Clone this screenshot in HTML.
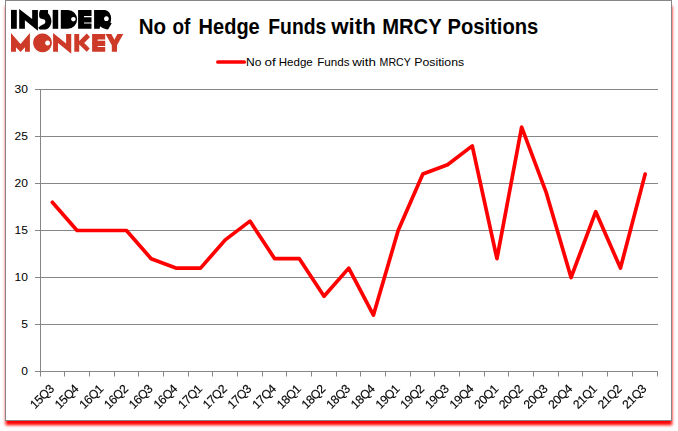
<!DOCTYPE html>
<html><head><meta charset="utf-8"><title>No of Hedge Funds with MRCY Positions</title>
<style>
html,body{margin:0;padding:0;background:#fff;width:678px;height:431px;overflow:hidden}
svg{position:absolute;left:0;top:0}
text{font-family:"Liberation Sans",sans-serif;fill:#000}
</style></head><body>
<svg width="678" height="431" viewBox="0 0 678 431">
<defs><filter id="sh" x="-5%" y="-5%" width="110%" height="110%"><feGaussianBlur stdDeviation="1.4"/></filter></defs>
<rect x="5.58" y="6" width="666.6" height="419.2" fill="#ff0000" filter="url(#sh)"/>
<rect x="5.5" y="0.5" width="666" height="420" fill="#fff" stroke="#868686" stroke-width="1"/>
<line x1="35.00" y1="371.50" x2="658.00" y2="371.50" stroke="#868686" stroke-width="1"/>
<line x1="35.00" y1="324.50" x2="658.00" y2="324.50" stroke="#868686" stroke-width="1"/>
<line x1="35.00" y1="277.50" x2="658.00" y2="277.50" stroke="#868686" stroke-width="1"/>
<line x1="35.00" y1="230.50" x2="658.00" y2="230.50" stroke="#868686" stroke-width="1"/>
<line x1="35.00" y1="183.50" x2="658.00" y2="183.50" stroke="#868686" stroke-width="1"/>
<line x1="35.00" y1="136.50" x2="658.00" y2="136.50" stroke="#868686" stroke-width="1"/>
<line x1="35.00" y1="89.50" x2="658.00" y2="89.50" stroke="#868686" stroke-width="1"/>
<line x1="40.50" y1="89.00" x2="40.50" y2="372.00" stroke="#868686" stroke-width="1"/>
<line x1="40.50" y1="371.50" x2="40.50" y2="376.50" stroke="#868686" stroke-width="1"/>
<line x1="64.50" y1="371.50" x2="64.50" y2="376.50" stroke="#868686" stroke-width="1"/>
<line x1="89.50" y1="371.50" x2="89.50" y2="376.50" stroke="#868686" stroke-width="1"/>
<line x1="114.50" y1="371.50" x2="114.50" y2="376.50" stroke="#868686" stroke-width="1"/>
<line x1="138.50" y1="371.50" x2="138.50" y2="376.50" stroke="#868686" stroke-width="1"/>
<line x1="163.50" y1="371.50" x2="163.50" y2="376.50" stroke="#868686" stroke-width="1"/>
<line x1="188.50" y1="371.50" x2="188.50" y2="376.50" stroke="#868686" stroke-width="1"/>
<line x1="212.50" y1="371.50" x2="212.50" y2="376.50" stroke="#868686" stroke-width="1"/>
<line x1="237.50" y1="371.50" x2="237.50" y2="376.50" stroke="#868686" stroke-width="1"/>
<line x1="262.50" y1="371.50" x2="262.50" y2="376.50" stroke="#868686" stroke-width="1"/>
<line x1="286.50" y1="371.50" x2="286.50" y2="376.50" stroke="#868686" stroke-width="1"/>
<line x1="311.50" y1="371.50" x2="311.50" y2="376.50" stroke="#868686" stroke-width="1"/>
<line x1="336.50" y1="371.50" x2="336.50" y2="376.50" stroke="#868686" stroke-width="1"/>
<line x1="360.50" y1="371.50" x2="360.50" y2="376.50" stroke="#868686" stroke-width="1"/>
<line x1="385.50" y1="371.50" x2="385.50" y2="376.50" stroke="#868686" stroke-width="1"/>
<line x1="410.50" y1="371.50" x2="410.50" y2="376.50" stroke="#868686" stroke-width="1"/>
<line x1="434.50" y1="371.50" x2="434.50" y2="376.50" stroke="#868686" stroke-width="1"/>
<line x1="459.50" y1="371.50" x2="459.50" y2="376.50" stroke="#868686" stroke-width="1"/>
<line x1="484.50" y1="371.50" x2="484.50" y2="376.50" stroke="#868686" stroke-width="1"/>
<line x1="508.50" y1="371.50" x2="508.50" y2="376.50" stroke="#868686" stroke-width="1"/>
<line x1="533.50" y1="371.50" x2="533.50" y2="376.50" stroke="#868686" stroke-width="1"/>
<line x1="558.50" y1="371.50" x2="558.50" y2="376.50" stroke="#868686" stroke-width="1"/>
<line x1="582.50" y1="371.50" x2="582.50" y2="376.50" stroke="#868686" stroke-width="1"/>
<line x1="607.50" y1="371.50" x2="607.50" y2="376.50" stroke="#868686" stroke-width="1"/>
<line x1="632.50" y1="371.50" x2="632.50" y2="376.50" stroke="#868686" stroke-width="1"/>
<line x1="657.50" y1="371.50" x2="657.50" y2="376.50" stroke="#868686" stroke-width="1"/>
<text x="28" y="375.10" text-anchor="end" font-size="11.6" textLength="6.7" lengthAdjust="spacingAndGlyphs">0</text>
<text x="28" y="328.10" text-anchor="end" font-size="11.6" textLength="6.7" lengthAdjust="spacingAndGlyphs">5</text>
<text x="28" y="281.10" text-anchor="end" font-size="11.6" textLength="13.4" lengthAdjust="spacingAndGlyphs">10</text>
<text x="28" y="234.10" text-anchor="end" font-size="11.6" textLength="13.4" lengthAdjust="spacingAndGlyphs">15</text>
<text x="28" y="187.10" text-anchor="end" font-size="11.6" textLength="13.4" lengthAdjust="spacingAndGlyphs">20</text>
<text x="28" y="140.10" text-anchor="end" font-size="11.6" textLength="13.4" lengthAdjust="spacingAndGlyphs">25</text>
<text x="28" y="93.10" text-anchor="end" font-size="11.6" textLength="13.4" lengthAdjust="spacingAndGlyphs">30</text>
<g opacity="0.99">
<text transform="translate(54.94,389.50) rotate(-45)" text-anchor="end" font-size="12.2" textLength="28.2" lengthAdjust="spacing" stroke="#000" stroke-width="0.15">15Q3</text>
<text transform="translate(79.62,389.50) rotate(-45)" text-anchor="end" font-size="12.2" textLength="28.2" lengthAdjust="spacing" stroke="#000" stroke-width="0.15">15Q4</text>
<text transform="translate(104.30,389.50) rotate(-45)" text-anchor="end" font-size="12.2" textLength="28.2" lengthAdjust="spacing" stroke="#000" stroke-width="0.15">16Q1</text>
<text transform="translate(128.98,389.50) rotate(-45)" text-anchor="end" font-size="12.2" textLength="28.2" lengthAdjust="spacing" stroke="#000" stroke-width="0.15">16Q2</text>
<text transform="translate(153.66,389.50) rotate(-45)" text-anchor="end" font-size="12.2" textLength="28.2" lengthAdjust="spacing" stroke="#000" stroke-width="0.15">16Q3</text>
<text transform="translate(178.34,389.50) rotate(-45)" text-anchor="end" font-size="12.2" textLength="28.2" lengthAdjust="spacing" stroke="#000" stroke-width="0.15">16Q4</text>
<text transform="translate(203.02,389.50) rotate(-45)" text-anchor="end" font-size="12.2" textLength="28.2" lengthAdjust="spacing" stroke="#000" stroke-width="0.15">17Q1</text>
<text transform="translate(227.70,389.50) rotate(-45)" text-anchor="end" font-size="12.2" textLength="28.2" lengthAdjust="spacing" stroke="#000" stroke-width="0.15">17Q2</text>
<text transform="translate(252.38,389.50) rotate(-45)" text-anchor="end" font-size="12.2" textLength="28.2" lengthAdjust="spacing" stroke="#000" stroke-width="0.15">17Q3</text>
<text transform="translate(277.06,389.50) rotate(-45)" text-anchor="end" font-size="12.2" textLength="28.2" lengthAdjust="spacing" stroke="#000" stroke-width="0.15">17Q4</text>
<text transform="translate(301.74,389.50) rotate(-45)" text-anchor="end" font-size="12.2" textLength="28.2" lengthAdjust="spacing" stroke="#000" stroke-width="0.15">18Q1</text>
<text transform="translate(326.42,389.50) rotate(-45)" text-anchor="end" font-size="12.2" textLength="28.2" lengthAdjust="spacing" stroke="#000" stroke-width="0.15">18Q2</text>
<text transform="translate(351.10,389.50) rotate(-45)" text-anchor="end" font-size="12.2" textLength="28.2" lengthAdjust="spacing" stroke="#000" stroke-width="0.15">18Q3</text>
<text transform="translate(375.78,389.50) rotate(-45)" text-anchor="end" font-size="12.2" textLength="28.2" lengthAdjust="spacing" stroke="#000" stroke-width="0.15">18Q4</text>
<text transform="translate(400.46,389.50) rotate(-45)" text-anchor="end" font-size="12.2" textLength="28.2" lengthAdjust="spacing" stroke="#000" stroke-width="0.15">19Q1</text>
<text transform="translate(425.14,389.50) rotate(-45)" text-anchor="end" font-size="12.2" textLength="28.2" lengthAdjust="spacing" stroke="#000" stroke-width="0.15">19Q2</text>
<text transform="translate(449.82,389.50) rotate(-45)" text-anchor="end" font-size="12.2" textLength="28.2" lengthAdjust="spacing" stroke="#000" stroke-width="0.15">19Q3</text>
<text transform="translate(474.50,389.50) rotate(-45)" text-anchor="end" font-size="12.2" textLength="28.2" lengthAdjust="spacing" stroke="#000" stroke-width="0.15">19Q4</text>
<text transform="translate(499.18,389.50) rotate(-45)" text-anchor="end" font-size="12.2" textLength="28.2" lengthAdjust="spacing" stroke="#000" stroke-width="0.15">20Q1</text>
<text transform="translate(523.86,389.50) rotate(-45)" text-anchor="end" font-size="12.2" textLength="28.2" lengthAdjust="spacing" stroke="#000" stroke-width="0.15">20Q2</text>
<text transform="translate(548.54,389.50) rotate(-45)" text-anchor="end" font-size="12.2" textLength="28.2" lengthAdjust="spacing" stroke="#000" stroke-width="0.15">20Q3</text>
<text transform="translate(573.22,389.50) rotate(-45)" text-anchor="end" font-size="12.2" textLength="28.2" lengthAdjust="spacing" stroke="#000" stroke-width="0.15">20Q4</text>
<text transform="translate(597.90,389.50) rotate(-45)" text-anchor="end" font-size="12.2" textLength="28.2" lengthAdjust="spacing" stroke="#000" stroke-width="0.15">21Q1</text>
<text transform="translate(622.58,389.50) rotate(-45)" text-anchor="end" font-size="12.2" textLength="28.2" lengthAdjust="spacing" stroke="#000" stroke-width="0.15">21Q2</text>
<text transform="translate(647.26,389.50) rotate(-45)" text-anchor="end" font-size="12.2" textLength="28.2" lengthAdjust="spacing" stroke="#000" stroke-width="0.15">21Q3</text>
</g>
<polyline points="52.35,202.30 77.05,230.50 101.75,230.50 126.45,230.50 151.15,258.70 175.85,268.10 200.55,268.10 225.25,239.90 249.95,221.10 274.65,258.70 299.35,258.70 324.05,296.30 348.75,268.10 373.45,315.10 398.15,230.50 422.85,174.10 447.55,164.70 472.25,145.90 496.95,258.70 521.65,127.10 546.35,192.90 571.05,277.50 595.75,211.70 620.45,268.10 645.15,174.10" fill="none" stroke="#ff0000" stroke-width="3.7" stroke-linecap="round" stroke-linejoin="round"/>
<line x1="217.9" y1="62" x2="244.2" y2="62" stroke="#ff0000" stroke-width="3.7" stroke-linecap="round"/>
<text x="246.0" y="66.0" font-size="11.8" textLength="15.39" lengthAdjust="spacingAndGlyphs">No</text>
<text x="264.51" y="66.0" font-size="11.8" textLength="11.25" lengthAdjust="spacingAndGlyphs">of</text>
<text x="278.74" y="66.0" font-size="11.8" textLength="33.97" lengthAdjust="spacingAndGlyphs">Hedge</text>
<text x="317.18" y="66.0" font-size="11.8" textLength="32.34" lengthAdjust="spacingAndGlyphs">Funds</text>
<text x="352.18" y="66.0" font-size="11.8" textLength="23.74" lengthAdjust="spacingAndGlyphs">with</text>
<text x="379.61" y="66.0" font-size="11.8" textLength="31.16" lengthAdjust="spacingAndGlyphs">MRCY</text>
<text x="414.28" y="66.0" font-size="11.8" textLength="49.84" lengthAdjust="spacingAndGlyphs">Positions</text>
<text x="138.66" y="33.9" font-size="21.7" font-weight="bold" textLength="27.37" lengthAdjust="spacingAndGlyphs">No</text>
<text x="172.48" y="33.9" font-size="21.7" font-weight="bold" textLength="17.87" lengthAdjust="spacingAndGlyphs">of</text>
<text x="198.58" y="33.9" font-size="21.7" font-weight="bold" textLength="61.16" lengthAdjust="spacingAndGlyphs">Hedge</text>
<text x="268.32" y="33.9" font-size="21.7" font-weight="bold" textLength="57.88" lengthAdjust="spacingAndGlyphs">Funds</text>
<text x="331.19" y="33.9" font-size="21.7" font-weight="bold" textLength="44.6" lengthAdjust="spacingAndGlyphs">with</text>
<text x="382.18" y="33.9" font-size="21.7" font-weight="bold" textLength="59.44" lengthAdjust="spacingAndGlyphs">MRCY</text>
<text x="447.48" y="33.9" font-size="21.7" font-weight="bold" textLength="90.87" lengthAdjust="spacingAndGlyphs">Positions</text>

<g fill="#000">
<rect x="11" y="9.9" width="5.8" height="18.9"/>
<polygon points="19.2,9.0 32.15,19.0 32.15,9.9 37.9,9.9 37.9,30.8 24.9,20.2 24.9,28.8 19.2,28.8"/>
<path d="M 40.51 10.12 L 47.59 10.12 C 48.03 10.23 48.14 10.56 48.09 11.12 L 47.92 13.13 C 49.98 14.69 51.38 18.03 51.38 20.93 C 51.38 24.72 49.15 28.62 45.80 29.52 L 39.95 29.52 C 39.23 29.29 38.56 28.51 38.33 27.62 C 39.67 26.51 41.34 25.00 43.57 24.22 C 45.80 23.61 45.92 20.37 44.24 19.48 C 43.30 19.04 41.62 19.15 40.68 18.59 C 39.56 17.92 39.11 16.92 39.11 15.25 C 39.11 12.74 39.39 11.07 40.51 10.12 Z"/>
<rect x="52.7" y="9.9" width="5.5" height="18.9"/>
<path d="M60.8,9.9 H68 A9.1,9.45 0 0 1 68,28.8 H60.8 Z M73.4,16.9 a2.3,2.3 0 1 0 0.01,0 Z" fill-rule="evenodd"/>
<path d="M78.1,9.9 H91.5 V16.1 H84 V17.15 H91.5 V22.4 H84 V23.45 H91.5 V28.8 H78.1 Z"/>
<path d="M94.1,9.9 H105 C109,10.5 111.1,14.5 111.1,18 C111.1,20 110.9,21.5 110.3,22.8 L111.7,23.3 L108.1,29.5 C106,29.3 102,28 100,26.2 L99.7,28.8 H94.1 Z M106.4,16.3 a2.4,2.4 0 1 0 0.01,0 Z" fill-rule="evenodd"/>
</g>
<g fill="#cd3a27">
<polygon points="11,33.1 20.5,44.1 29.9,33.1 29.9,51.7 25.0,51.7 25.0,47.3 20.5,51.9 15.95,47.3 15.95,51.7 11,51.7"/>
<path d="M42.5,33.4 a9.4,9.4 0 1 0 0.01,0 Z M47.6,40.5 a2.5,2.5 0 1 0 0.01,0 Z" fill-rule="evenodd"/>
<polygon points="53.1,33.1 66.1,43.4 66.1,34.0 71.25,34.0 71.25,53.7 58.0,43.1 58.0,51.85 53.1,51.85"/>
<path d="M74.3,34 H79.2 V41 L86.7,33.4 L90,37.1 L84.2,43.1 L89.7,48.5 L86.7,51.85 L79.2,44.6 V51.85 H74.3 Z"/>
<path d="M92.1,34 H105.2 V39.6 H97.65 V40.65 H105.2 V45.9 H97.65 V46.95 H105.2 V51.85 H92.1 Z"/>
<polygon points="105.5,34 111.4,34 114.4,39.8 117.4,34 123.3,34 117,45.2 117,51.85 111.8,51.85 111.8,45.2"/>
</g>

</svg>
</body></html>
